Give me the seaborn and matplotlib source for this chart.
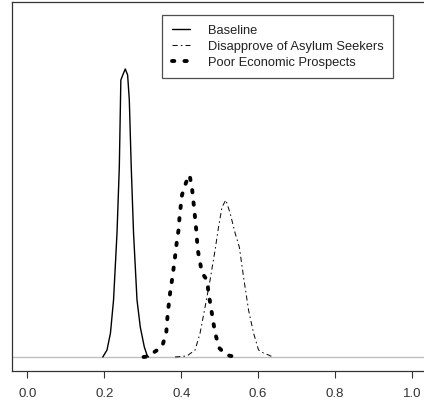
import numpy as np
import pandas as pd
import matplotlib
matplotlib.use("Agg")
import matplotlib.pyplot as plt
import seaborn as sns

# Density curves
baseline_x = [0.196, 0.207, 0.216, 0.224, 0.233, 0.239, 0.243, 0.249, 0.2545, 0.2606,
              0.265, 0.270, 0.276, 0.285, 0.2935, 0.304, 0.311, 0.315]
baseline_y = [0, 0.53, 1.82, 4.33, 9.42, 14.44, 21.05, 21.51, 21.89, 21.43,
              19.53, 14.44, 9.42, 4.33, 2.28, 0.76, 0.15, 0]

disapprove_x = [0.384, 0.415, 0.436, 0.449, 0.462, 0.475, 0.488, 0.497, 0.506, 0.516,
                0.527, 0.540, 0.551, 0.562, 0.575, 0.588, 0.601, 0.614, 0.627, 0.638]
disapprove_y = [0, 0.08, 0.53, 1.82, 3.80, 5.85, 8.13, 9.88, 11.40, 11.93,
                10.94, 9.42, 8.36, 6.08, 3.57, 1.82, 0.53, 0.30, 0.15, 0]

poor_x = [0.302, 0.3125, 0.330, 0.350, 0.361, 0.365, 0.371, 0.376, 0.382, 0.389,
          0.393, 0.396, 0.402, 0.406, 0.413, 0.4216, 0.428, 0.434, 0.439, 0.443,
          0.454, 0.467, 0.471, 0.477, 0.488, 0.499, 0.517, 0.543]
poor_y = [0, 0.04, 0.38, 0.76, 1.82, 3.34, 4.86, 5.85, 7.14, 8.89,
          9.65, 10.79, 12.31, 12.69, 13.30, 13.83, 12.84, 11.17, 9.65, 8.13,
          6.38, 5.85, 4.86, 3.80, 1.82, 0.68, 0.15, 0]

series_labels = ["Baseline", "Disapprove of Asylum Seekers", "Poor Economic Prospects"]
x_ticks = [0.0, 0.2, 0.4, 0.6, 0.8, 1.0]
x_tick_labels = ["0.0", "0.2", "0.4", "0.6", "0.8", "1.0"]

sns.set_theme(style="white")
plt.rcParams["font.family"] = ["Liberation Sans", "DejaVu Sans"]

W, H = 424, 409
fig = plt.figure(figsize=(W / 100, H / 100), dpi=100)
left = 12 / W
bottom = 1 - 371 / H
top = 1 - 2 / H
x_right_px = 27 + 385 * 1.04
ax = fig.add_axes([left, bottom, x_right_px / W - left, top - bottom])

df_b = pd.DataFrame({"x": baseline_x, "y": baseline_y})
df_d = pd.DataFrame({"x": disapprove_x, "y": disapprove_y})
df_p = pd.DataFrame({"x": poor_x, "y": poor_y})

ax.axhline(0, color="#bebebe", lw=1.0, zorder=1)

sns.lineplot(data=df_b, x="x", y="y", ax=ax, color="black", lw=1.0,
             sort=False, estimator=None, label=series_labels[0])
sns.lineplot(data=df_d, x="x", y="y", ax=ax, color="#111111", lw=0.75,
             sort=False, estimator=None, label=series_labels[1],
             linestyle=(0, (5, 3, 1.5, 3)))
sns.lineplot(data=df_p, x="x", y="y", ax=ax, color="black", lw=2.8,
             sort=False, estimator=None, label=series_labels[2],
             linestyle=(0, (0.6, 2.6)), dash_capstyle="round")

ax.set_xlim(-0.04, 1.04)
ax.set_ylim(-1.064, 26.98)
ax.set_xlabel("")
ax.set_ylabel("")
ax.set_yticks([])
ax.set_xticks(x_ticks)
ax.set_xticklabels(x_tick_labels)
ax.tick_params(axis="x", direction="out", length=5, width=0.8, color="#333333",
               pad=7, labelsize=9.5, labelcolor="#333333", bottom=True)
for s in ax.spines.values():
    s.set_color("#333333")
    s.set_linewidth(0.9)

leg = ax.legend(loc="upper left", bbox_to_anchor=(162 / W, 1 - 15 / H),
                bbox_transform=fig.transFigure, borderaxespad=0,
                frameon=True, fancybox=False, fontsize=9.3,
                handlelength=1.4, handletextpad=1.4, labelspacing=0.3,
                borderpad=0.75)
leg.get_frame().set_edgecolor("#222222")
leg.get_frame().set_linewidth(0.9)
for t in leg.get_texts():
    t.set_color("#222222")

fig.savefig("out.png", dpi=100)
